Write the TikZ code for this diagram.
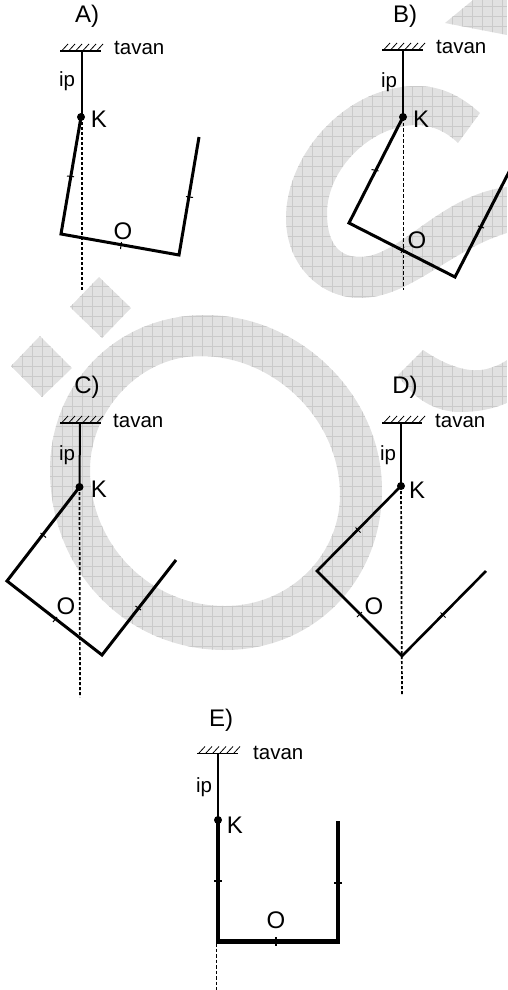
\documentclass[tikz,border=0pt]{standalone}
\usepackage{fontspec}
\setmainfont{Liberation Sans}
\definecolor{wmfill}{HTML}{E1E1E1}
\definecolor{wmgrid}{HTML}{CACACA}
\tikzset{
  thinrope/.style={line width=1.6pt},
  rope/.style={line width=2pt},
  ceilingline/.style={line width=1.6pt},
  hatchline/.style={line width=0.8pt},
  barline/.style={line width=3pt,line join=miter},
  barthin/.style={line width=2.6pt,line join=miter},
  barthick/.style={line width=4.4pt,line join=miter},
  plumb/.style={line width=1.7pt,dash pattern=on 3pt off 2pt},
  plumbthin/.style={line width=1pt,dash pattern=on 3.5pt off 2pt},
  tickmark/.style={line width=1pt},
  pin/.style={circle,fill=black,inner sep=0pt,minimum size=8pt},
  letter/.style={font=\fontsize{24}{24}\selectfont,inner sep=0pt},
  smalltext/.style={font=\fontsize{20.5}{20.5}\selectfont,inner sep=0pt},
}
\newcommand{\ceilinghatch}[2]{%
  \foreach \hx in {0,7,14,21,28,35}
    \draw[hatchline] ({#1+\hx+1},#2) -- ++(6,-6.5);}
\newcommand{\wmpaths}{%
  (205,315) .. controls (115,315) and (50,385) .. (50,470)
  .. controls (50,570) and (125,650) .. (225,650)
  .. controls (315,650) and (382,580) .. (382,490)
  .. controls (382,395) and (300,315) .. (205,315) -- cycle
  (200,356) .. controls (140,356) and (90,410) .. (90,470)
  .. controls (90,545) and (150,606) .. (225,606)
  .. controls (290,606) and (340,555) .. (340,495)
  .. controls (340,420) and (275,356) .. (200,356) -- cycle
  (480,113) .. controls (460,95) and (440,86) .. (417,86)
  .. controls (345,86) and (286,155) .. (286,218)
  .. controls (286,265) and (320,298) .. (360,298)
  .. controls (410,298) and (450,250) .. (507,233)
  -- (507,187)
  .. controls (440,195) and (400,257) .. (360,257)
  .. controls (335,257) and (327,238) .. (327,213)
  .. controls (327,170) and (370,125) .. (417,125)
  .. controls (432,125) and (447,132) .. (458,143) -- cycle
  (445,23) -- (473,0) -- (507,0) -- (507,35) -- cycle
  (423,350) .. controls (445,365) and (470,375) .. (490,368)
  .. controls (497,366) and (503,363) .. (507,360)
  -- (507,403) .. controls (490,410) and (475,412) .. (460,412)
  .. controls (435,412) and (412,398) .. (398,375) -- cycle
  (99,277) -- (131,308) -- (102,338) -- (70,307) -- cycle
  (40,336) -- (72,368) -- (42,397) -- (11,366) -- cycle}
\begin{document}
\begin{tikzpicture}[x=1pt,y=-1pt]
\useasboundingbox (0,0) rectangle (507,990);
% watermark
\begin{scope}[even odd rule]
  \clip \wmpaths;
  \fill[wmfill] (0,0) rectangle (507,990);
  \foreach \gx in {0,10,...,500} \draw[wmgrid,line width=0.7pt] (\gx+2,0) -- (\gx+2,700);
  \foreach \gy in {0,10,...,700} \draw[wmgrid,line width=0.7pt] (0,\gy+6) -- (507,\gy+6);
\end{scope}

% ---------- A
\node[letter] (labA) at (87,16) {A)};
\coordinate (cAl) at (60,51); \coordinate (cAr) at (101,51); \coordinate (cAm) at (82,51);
\ceilinghatch{61}{50.5}
\draw[ceilingline] (cAl) -- (cAr);
\node[pin] (kA) at (81,117) {};
\draw[rope] (cAm) -- (82,117);
\coordinate (a1) at (61,234); \coordinate (a2) at (179,255); \coordinate (a3) at (199,137);
\coordinate (aEnd) at (82,290);
\draw[plumb] (82,117) -- (aEnd);
\draw[barline] (kA.center) -- (a1) -- (a2) -- (a3);
\draw[tickmark] (67,176) -- (74,176.8) (121.5,242) -- (120.5,249) (186,196.5) -- (193,197.5);
\node[smalltext,anchor=base west] (tA) at (114,55) {tavan};
\node[smalltext] (ipA) at (67,81) {ip};
\node[letter] (KA) at (99,119) {K};
\node[letter] (OA) at (123,231) {O};

% ---------- B
\node[letter] (labB) at (405,16) {B)};
\coordinate (cBl) at (382,50); \coordinate (cBr) at (423,50); \coordinate (cBm) at (403,50);
\ceilinghatch{383}{49.5}
\draw[ceilingline] (cBl) -- (cBr);
\node[pin] (kB) at (403,117) {};
\draw[rope] (cBm) -- (kB.center);
\coordinate (b1) at (349,223); \coordinate (b2) at (455,277); \coordinate (b3) at (510,170);
\coordinate (bEnd) at (403,290);
\draw[plumbthin] (kB.center) -- (bEnd);
\draw[barline] (kB.center) -- (b1) -- (b2) -- (b3);
\draw[tickmark] (371.5,169.5) -- (378.5,171) (404,247) -- (401,253) (478,226) -- (484,228);
\node[smalltext,anchor=base west] (tB) at (436,54) {tavan};
\node[smalltext] (ipB) at (389,82) {ip};
\node[letter] (KB) at (421,119) {K};
\node[letter] (OB) at (417,240) {O};

% ---------- C
\node[letter] (labC) at (87,387) {C)};
\coordinate (cCl) at (60,423); \coordinate (cCr) at (101,423); \coordinate (cCm) at (80,423);
\ceilinghatch{61}{422.5}
\draw[ceilingline] (cCl) -- (cCr);
\node[pin] (kC) at (79.5,487) {};
\draw[rope] (cCm) -- (kC.center);
\coordinate (c1) at (7,581); \coordinate (c2) at (102,655); \coordinate (c3) at (176,560);
\coordinate (cEnd) at (80,697);
\draw[plumb] (kC.center) -- (cEnd);
\draw[barline] (kC.center) -- (c1) -- (c2) -- (c3);
\draw[tickmark] (40.5,533) -- (46,537.5) (57,617) -- (53,622) (135.5,606) -- (141,610);
\node[smalltext,anchor=base west] (tC) at (113,427) {tavan};
\node[smalltext] (ipC) at (67,455) {ip};
\node[letter] (KC) at (99,489) {K};
\node[letter] (OC) at (66,606) {O};

% ---------- D
\node[letter] (labD) at (405,387) {D)};
\coordinate (cDl) at (382,423); \coordinate (cDr) at (422,423); \coordinate (cDm) at (401,423);
\ceilinghatch{383}{422.5}
\draw[ceilingline] (cDl) -- (cDr);
\node[pin] (kD) at (401,486) {};
\draw[rope] (cDm) -- (kD.center);
\coordinate (d1) at (317,571); \coordinate (d2) at (402,656); \coordinate (d3) at (486,571);
\coordinate (dEnd) at (402,695);
\draw[plumb] (kD.center) -- (dEnd);
\draw[barthin] (kD.center) -- (d1) -- (d2) -- (d3);
\draw[tickmark] (355.5,527.5) -- (360.5,532.5) (362,612) -- (357,617) (440.5,612.5) -- (445.5,617.5);
\node[smalltext,anchor=base west] (tD) at (435,427) {tavan};
\node[smalltext] (ipD) at (388,455) {ip};
\node[letter] (KD) at (417,490) {K};
\node[letter] (OD) at (374,606) {O};

% ---------- E
\node[letter] (labE) at (221,720) {E)};
\coordinate (cEl) at (197,753.5); \coordinate (cEr) at (238,753.5); \coordinate (cEm) at (218,753.5);
\ceilinghatch{198}{753}
\draw[ceilingline] (cEl) -- (cEr);
\node[pin] (kE) at (218,820) {};
\draw[thinrope] (cEm) -- (kE.center);
\coordinate (e1) at (218,941.5); \coordinate (e2) at (338,941.5); \coordinate (e3) at (338,821);
\coordinate (eTop) at (216.5,943); \coordinate (eEnd) at (216.5,990);
\draw[plumbthin,line width=0.8pt] (eTop) -- (eEnd);
\draw[barthick] (kE.center) -- (e1) -- (e2) -- (e3);
\draw[tickmark,line width=1.2pt] (214,881) -- (222,881) (276,937) -- (276,946) (334,883) -- (342,883);
\node[smalltext,anchor=base west] (tE) at (253,759) {tavan};
\node[smalltext] (ipE) at (204,787) {ip};
\node[letter] (KE) at (235,825) {K};
\node[letter] (OE) at (276,920) {O};
\end{tikzpicture}
\end{document}
